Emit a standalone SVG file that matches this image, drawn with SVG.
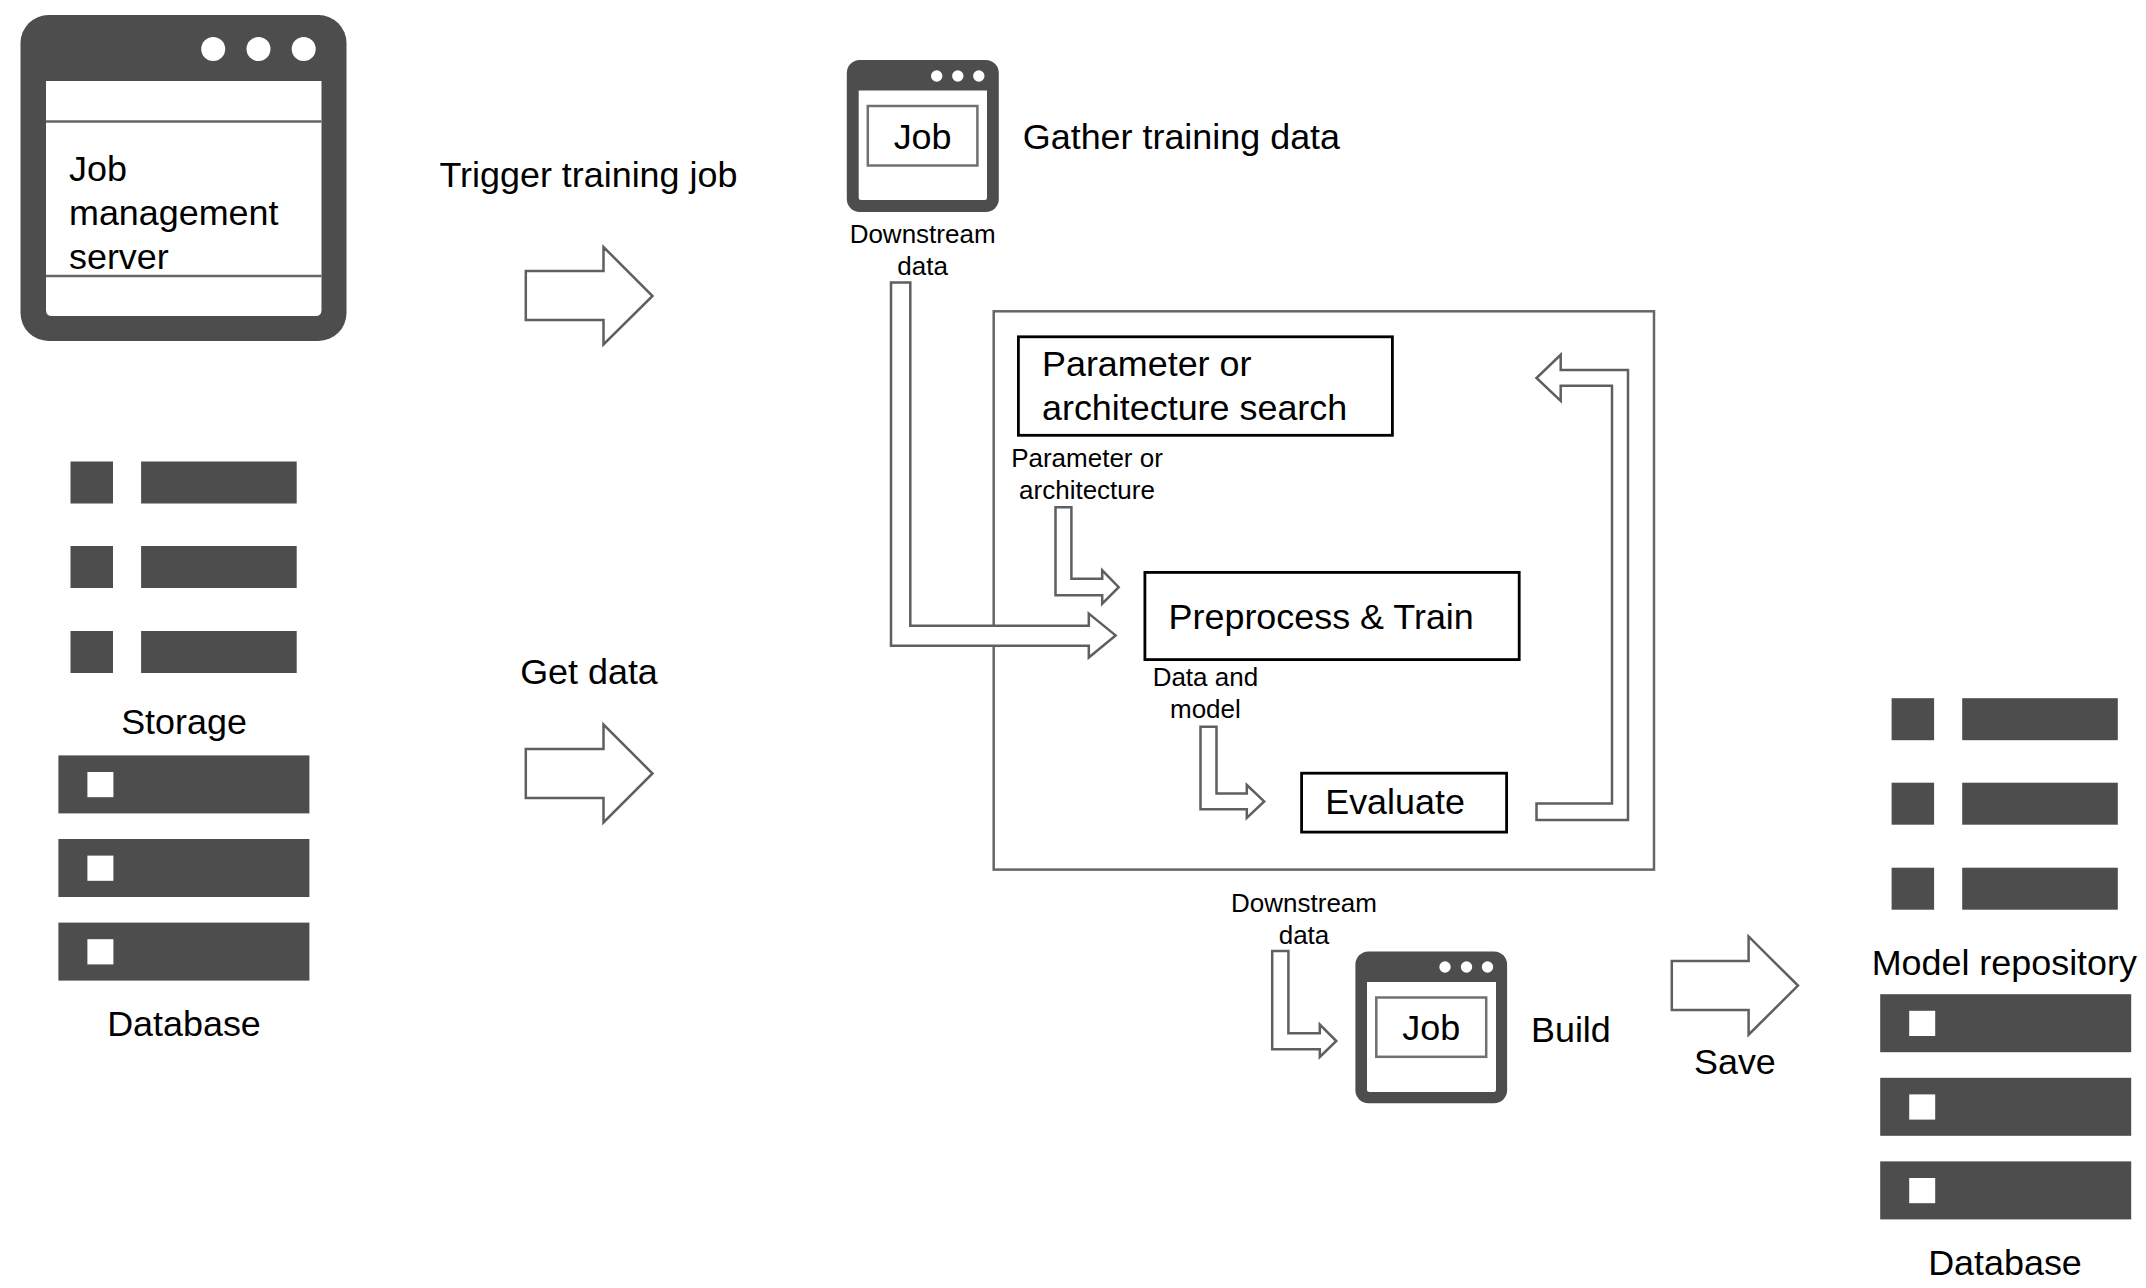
<svg xmlns="http://www.w3.org/2000/svg" width="2146" height="1288" viewBox="0 0 2146 1288">
<defs>
<style>
text{font-family:"Liberation Sans",Arial,sans-serif;fill:#000}
.l{font-size:35.9px}
.s{font-size:26px}
.m{text-anchor:middle}
.d{fill:#4d4d4d}
.w{fill:#fff}
.a{fill:#fff;stroke:#5f5f5f;stroke-width:2.5;stroke-linejoin:miter}
.b{fill:#fff;stroke:#000;stroke-width:2.8}
.g{fill:#fff;stroke:#707070;stroke-width:2.5}
</style>
<g id="storeRows">
<rect class="d" x="0" y="0" width="42.5" height="42"/><rect class="d" x="70.6" y="0" width="155.6" height="42"/>
<rect class="d" x="0" y="84.5" width="42.5" height="42"/><rect class="d" x="70.6" y="84.5" width="155.6" height="42"/>
<rect class="d" x="0" y="169.5" width="42.5" height="42"/><rect class="d" x="70.6" y="169.5" width="155.6" height="42"/>
</g>
<g id="dbRows">
<rect class="d" x="0" y="0" width="251" height="58"/><rect class="w" x="29" y="16.6" width="26" height="25.2"/>
<rect class="d" x="0" y="83.6" width="251" height="58"/><rect class="w" x="29" y="100.2" width="26" height="25.2"/>
<rect class="d" x="0" y="167.2" width="251" height="58"/><rect class="w" x="29" y="183.8" width="26" height="25.2"/>
</g>
</defs>
<rect width="2146" height="1288" fill="#fff"/>

<g id="job-management-server">
<rect class="d" x="20.5" y="15" width="326" height="326" rx="28"/>
<path class="w" d="M46 81H321.5V310Q321.5 316 315.5 316H52Q46 316 46 310Z"/>
<circle class="w" cx="213.2" cy="49" r="12"/><circle class="w" cx="258.5" cy="49" r="12"/><circle class="w" cx="303.7" cy="49" r="12"/>
<path d="M46 121.5H321.5M46 276H321.5" stroke="#666" stroke-width="2.5" fill="none"/>
<text class="l" x="69" y="180.5">Job</text>
<text class="l" x="69" y="224.5">management</text>
<text class="l" x="69" y="268.5">server</text>
</g>

<g id="storage">
<use href="#storeRows" x="70.5" y="461.5"/>
<text class="l m" x="184" y="733.5">Storage</text>
</g>
<g id="database-left">
<use href="#dbRows" x="58.4" y="755.4"/>
<text class="l m" x="184" y="1036">Database</text>
</g>

<g id="label-trigger"><text class="l" x="439.5" y="186.5">Trigger training job</text></g>
<g id="label-get-data"><text class="l m" x="589" y="683.5">Get data</text></g>

<g id="pipeline-container"><rect x="993.7" y="311.3" width="660.3" height="558.3" fill="none" stroke="#666" stroke-width="2.5"/></g>

<g id="job-gather">
<rect class="d" x="846.8" y="60" width="152" height="152" rx="13"/>
<path class="w" d="M858.7 90.5H987V197.5Q987 200 984.5 200H861.2Q858.7 200 858.7 197.5Z"/>
<circle class="w" cx="936.7" cy="76" r="5.7"/><circle class="w" cx="957.8" cy="76" r="5.7"/><circle class="w" cx="978.8" cy="76" r="5.7"/>
<rect class="g" x="867.8" y="106" width="109.6" height="59.5"/>
<text class="l m" x="922.6" y="148.5">Job</text>
<text class="l" x="1022.8" y="148.5">Gather training data</text>
<text class="s m" x="922.6" y="243">Downstream</text>
<text class="s m" x="922.6" y="275">data</text>
</g>

<g id="parameter-search">
<rect class="b" x="1018.4" y="336.8" width="374" height="98.5"/>
<text class="l" x="1042" y="376">Parameter or</text>
<text class="l" x="1042" y="420">architecture search</text>
<text class="s m" x="1087" y="467">Parameter or</text>
<text class="s m" x="1087" y="498.8">architecture</text>
</g>

<g id="preprocess-train">
<rect class="b" x="1144.9" y="572.4" width="374.3" height="87.2"/>
<text class="l" x="1168.6" y="628.5">Preprocess &amp; Train</text>
<text class="s m" x="1205.4" y="685.7">Data and</text>
<text class="s m" x="1205.4" y="717.5">model</text>
</g>

<g id="evaluate">
<rect class="b" x="1301.6" y="773.2" width="205" height="58.9"/>
<text class="l" x="1325.2" y="814">Evaluate</text>
</g>

<g id="job-build">
<rect class="d" x="1355.4" y="951.4" width="151.7" height="151.8" rx="13"/>
<path class="w" d="M1367 982H1496V1089.5Q1496 1092 1493.5 1092H1369.5Q1367 1092 1367 1089.5Z"/>
<circle class="w" cx="1445" cy="967" r="5.7"/><circle class="w" cx="1466.5" cy="967" r="5.7"/><circle class="w" cx="1487.5" cy="967" r="5.7"/>
<rect class="g" x="1376.3" y="997.5" width="109.9" height="59.3"/>
<text class="l m" x="1431.3" y="1040">Job</text>
<text class="l" x="1531" y="1041.5">Build</text>
<text class="s m" x="1304" y="911.8">Downstream</text>
<text class="s m" x="1304" y="944">data</text>
</g>

<g id="label-save"><text class="l m" x="1734.9" y="1074.3">Save</text></g>

<g id="model-repository">
<use href="#storeRows" x="1891.6" y="698.2"/>
<text class="l m" x="2004.3" y="975.3">Model repository</text>
</g>
<g id="database-right">
<use href="#dbRows" x="1880.2" y="994.2"/>
<text class="l m" x="2005" y="1274.6">Database</text>
</g>

<g id="connectors">
<path class="a" d="M525.8 271H603.5V247L652.5 296L603.5 344.5V320H525.8Z"/>
<path class="a" d="M525.8 749H603.5V724.5L652.5 773.5L603.5 822.5V798H525.8Z"/>
<path class="a" d="M891 282.6H910.3V625.7H1088.8V613.6L1115.6 635.4L1088.8 657.5V645.7H891Z"/>
<path class="a" d="M1055.5 507.2H1071.4V578.8H1102.2V570.4L1118.7 587.2L1102.2 603.7V595.3H1055.5Z"/>
<path class="a" d="M1200.5 726.8H1216.5V793.6H1246.8V785L1264.2 801.4L1246.8 817.9V809.3H1200.5Z"/>
<path class="a" d="M1536.5 803.5H1612V385.7H1560.7V400.8L1536.5 378L1560.7 354.8V370H1628V819.9H1536.5Z"/>
<path class="a" d="M1272.2 951H1288.4V1033.2H1319.8V1024.6L1336.3 1041L1319.8 1057V1049.3H1272.2Z"/>
<path class="a" d="M1671.8 961H1748.6V936.4L1798 985.6L1748.6 1034.7V1010.1H1671.8Z"/>
</g>
</svg>
